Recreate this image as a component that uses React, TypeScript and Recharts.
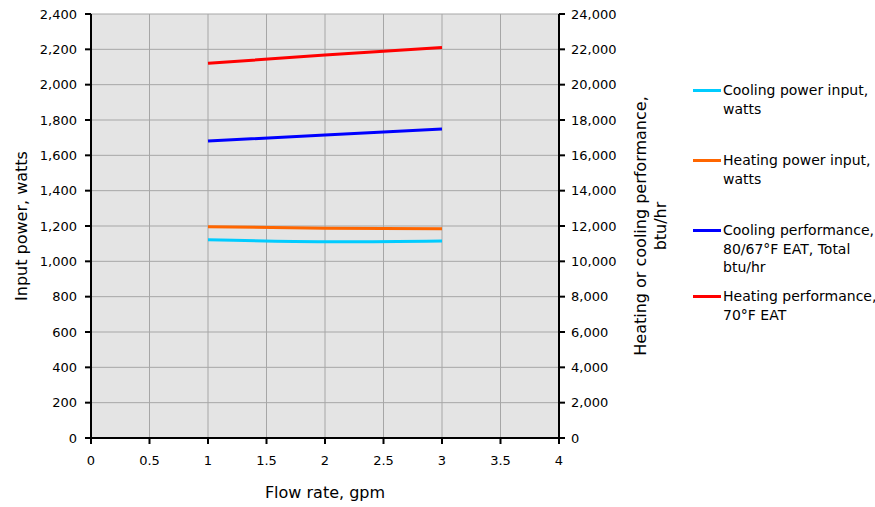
import React from "react";
import {
  LineChart,
  Line,
  XAxis,
  YAxis,
  CartesianGrid,
  Legend,
} from "recharts";

const flowRate = [1, 2, 3];
const coolingPower = [1122, 1111, 1115];
const heatingPower = [1196, 1187, 1185];
const coolingPerf = [16810, 17150, 17490];
const heatingPerf = [21210, 21680, 22100];

const xTicks = [0, 0.5, 1, 1.5, 2, 2.5, 3, 3.5, 4];
const leftTicks = [0, 200, 400, 600, 800, 1000, 1200, 1400, 1600, 1800, 2000, 2200, 2400];
const rightTicks = [0, 2000, 4000, 6000, 8000, 10000, 12000, 14000, 16000, 18000, 20000, 22000, 24000];

const SERIES = [
  { key: "coolingPower", axis: "left", color: "#00ccff", label: ["Cooling power input,", "watts"] },
  { key: "heatingPower", axis: "left", color: "#ff6600", label: ["Heating power input,", "watts"] },
  { key: "coolingPerf", axis: "right", color: "#0000ff", label: ["Cooling performance,", "80/67°F EAT, Total", "btu/hr"] },
  { key: "heatingPerf", axis: "right", color: "#ff0000", label: ["Heating performance,", "70°F EAT"] },
];

const FONT = "'DejaVu Sans', Verdana, sans-serif";
const fmt = (v: number) => v.toLocaleString("en-US");

const data = flowRate.map((x, i) => ({
  x,
  coolingPower: coolingPower[i],
  heatingPower: heatingPower[i],
  coolingPerf: coolingPerf[i],
  heatingPerf: heatingPerf[i],
}));

function LegendBox() {
  const tops = [0, 70, 140, 206];
  return (
    <div style={{ position: "relative", width: 182, height: 260, fontFamily: FONT, fontSize: 14, color: "#000" }}>
      {SERIES.map((s, i) => (
        <div key={s.key} style={{ position: "absolute", left: 0, top: tops[i], display: "flex", whiteSpace: "nowrap" }}>
          <div style={{ width: 28, height: 3, background: s.color, marginTop: 8, flex: "none" }} />
          <div style={{ marginLeft: 2, lineHeight: "18.5px" }}>
            {s.label.map((t) => (
              <div key={t}>{t}</div>
            ))}
          </div>
        </div>
      ))}
    </div>
  );
}

export default function App() {
  return (
    <div style={{ position: "absolute", left: 0, top: 0, background: "#fff" }}>
      <LineChart
        width={875}
        height={507}
        data={data}
        margin={{ top: 14, right: 236, left: 0, bottom: 0 }}
      >
        <CartesianGrid yAxisId="left" fill="#e4e4e4" stroke="#a6a6a6" strokeWidth={1} />
        <XAxis
          dataKey="x"
          type="number"
          domain={[0, 4]}
          ticks={xTicks}
          height={69}
          axisLine={{ stroke: "#000", strokeWidth: 2 }}
          tickLine={{ stroke: "#000", strokeWidth: 2 }}
          tickSize={6}
          tickMargin={12}
          tick={{ fill: "#000", fontSize: 13, fontFamily: FONT }}
          label={({ viewBox }: any) => (
            <text
              x={viewBox.x + viewBox.width / 2}
              y={492}
              textAnchor="middle"
              dominantBaseline="central"
              fontSize={16}
              fontFamily={FONT}
              fill="#000"
            >
              Flow rate, gpm
            </text>
          )}
        />
        <YAxis
          yAxisId="left"
          domain={[0, 2400]}
          ticks={leftTicks}
          width={91}
          tickFormatter={fmt}
          axisLine={{ stroke: "#000", strokeWidth: 2 }}
          tickLine={{ stroke: "#000", strokeWidth: 2 }}
          tickSize={6}
          tickMargin={8}
          tick={{ fill: "#000", fontSize: 13, fontFamily: FONT }}
          label={({ viewBox }: any) => (
            <text
              x={21}
              y={viewBox.y + viewBox.height / 2}
              transform={`rotate(-90, 21, ${viewBox.y + viewBox.height / 2})`}
              textAnchor="middle"
              dominantBaseline="central"
              fontSize={16}
              fontFamily={FONT}
              fill="#000"
            >
              Input power, watts
            </text>
          )}
        />
        <YAxis
          yAxisId="right"
          orientation="right"
          domain={[0, 24000]}
          ticks={rightTicks}
          width={80}
          tickFormatter={fmt}
          axisLine={{ stroke: "#000", strokeWidth: 2 }}
          tickLine={{ stroke: "#000", strokeWidth: 2 }}
          tickSize={6}
          tickMargin={6}
          tick={{ fill: "#000", fontSize: 13, fontFamily: FONT }}
          label={({ viewBox }: any) => {
            const cy = viewBox.y + viewBox.height / 2;
            return (
              <g fontSize={16} fontFamily={FONT} fill="#000">
                <text x={640} y={cy} transform={`rotate(-90, 640, ${cy})`} textAnchor="middle" dominantBaseline="central">
                  Heating or cooling performance,
                </text>
                <text x={660} y={cy} transform={`rotate(-90, 660, ${cy})`} textAnchor="middle" dominantBaseline="central">
                  btu/hr
                </text>
              </g>
            );
          }}
        />
        <Legend
          layout="vertical"
          align="center"
          verticalAlign="middle"
          content={() => <LegendBox />}
          wrapperStyle={{ position: "absolute", left: 693, top: 81, width: 182 }}
        />
        {SERIES.map((s) => (
          <Line
            key={s.key}
            yAxisId={s.axis}
            dataKey={s.key}
            type="natural"
            stroke={s.color}
            strokeWidth={3}
            dot={false}
            activeDot={false}
            isAnimationActive={false}
          />
        ))}
      </LineChart>
    </div>
  );
}
